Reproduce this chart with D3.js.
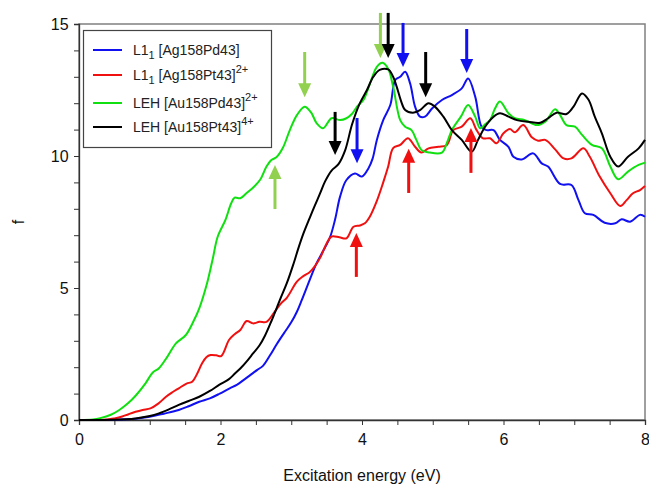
<!DOCTYPE html>
<html><head><meta charset="utf-8">
<script src="https://cdn.jsdelivr.net/npm/d3@7"></script>
<style>body{margin:0;background:#fff}svg{display:block}text{font-family:"Liberation Sans",Arial,sans-serif}</style>
</head><body><svg id="c" width="649" height="486"></svg>
<script>
// ---- data ----
const xTicks = [0, 2, 4, 6, 8];
const yTicks = [0, 5, 10, 15];
const seriesNames = ["L1|1| [Ag158Pd43]", "L1|1| [Ag158Pt43]^2+", "LEH [Au158Pd43]^2+", "LEH [Au158Pt43]^4+"];
const seriesColors = ["#1010f0", "#f01010", "#10e010", "#000000"];

const blueL1Pd = [[0,0],[0.5,0.01],[0.8,0.05],[1.0,0.12],[1.2,0.24],[1.41,0.38],[1.55,0.52],[1.70,0.69],[1.85,0.82],[1.99,1.0],[2.13,1.2],[2.23,1.33],[2.32,1.5],[2.42,1.70],[2.52,1.9],[2.6,2.05],[2.7,2.45],[2.79,2.85],[2.9,3.3],[3.0,3.7],[3.08,4.1],[3.15,4.55],[3.26,5.3],[3.36,5.95],[3.45,6.4],[3.55,6.94],[3.62,7.6],[3.69,8.46],[3.78,9.09],[3.90,9.34],[4.0,9.22],[4.09,9.53],[4.15,9.9],[4.21,10.61],[4.30,11.36],[4.40,11.93],[4.47,12.88],[4.54,13.0],[4.61,13.19],[4.68,12.75],[4.75,11.87],[4.82,11.49],[4.89,11.49],[4.99,11.8],[5.13,12.12],[5.27,12.31],[5.41,12.56],[5.50,12.94],[5.60,12.25],[5.69,11.11],[5.76,10.98],[5.86,10.98],[5.95,10.61],[6.07,10.35],[6.14,9.97],[6.26,9.87],[6.42,10.10],[6.54,9.72],[6.63,9.6],[6.80,8.94],[6.96,8.9],[7.06,8.33],[7.15,7.83],[7.27,7.77],[7.43,7.47],[7.58,7.45],[7.67,7.6],[7.79,7.51],[7.93,7.77],[8.0,7.70]];
const redL1Pt = [[0,0],[0.4,0.02],[0.5,0.06],[0.61,0.13],[0.7,0.22],[0.80,0.31],[0.9,0.38],[1.01,0.44],[1.12,0.62],[1.23,0.88],[1.32,1.05],[1.41,1.20],[1.52,1.38],[1.60,1.45],[1.67,1.75],[1.74,2.15],[1.80,2.38],[1.86,2.46],[1.94,2.45],[2.01,2.42],[2.12,3.03],[2.20,3.25],[2.28,3.41],[2.37,3.75],[2.46,3.66],[2.55,3.72],[2.65,3.72],[2.75,4.04],[2.85,4.4],[2.94,4.64],[3.08,5.24],[3.17,5.45],[3.26,5.6],[3.34,5.85],[3.41,6.15],[3.50,6.69],[3.57,6.95],[3.68,6.92],[3.78,6.88],[3.88,7.32],[3.97,7.37],[4.04,7.45],[4.11,7.70],[4.21,8.3],[4.30,9.0],[4.37,9.6],[4.44,10.3],[4.54,10.42],[4.65,10.67],[4.75,10.35],[4.84,10.13],[4.94,10.29],[5.08,10.35],[5.20,10.42],[5.29,10.98],[5.41,11.11],[5.53,11.43],[5.62,10.98],[5.71,10.67],[5.81,10.67],[5.90,10.48],[6.0,10.86],[6.09,11.02],[6.16,10.9],[6.28,11.17],[6.40,10.71],[6.49,10.58],[6.59,10.61],[6.73,10.25],[6.85,9.91],[6.96,9.91],[7.13,10.29],[7.22,9.97],[7.36,9.22],[7.51,8.59],[7.65,8.11],[7.74,8.33],[7.83,8.59],[7.93,8.71],[8.0,8.86]];
const greenLEHPd = [[0,0],[0.2,0.02],[0.3,0.07],[0.45,0.2],[0.57,0.38],[0.7,0.65],[0.8,0.92],[0.94,1.39],[1.04,1.79],[1.13,1.96],[1.25,2.4],[1.37,2.9],[1.51,3.22],[1.62,3.75],[1.70,4.23],[1.81,5.18],[1.89,6.1],[1.96,6.94],[2.07,7.58],[2.15,8.2],[2.20,8.42],[2.28,8.40],[2.37,8.6],[2.46,8.80],[2.56,9.1],[2.65,9.6],[2.72,9.85],[2.79,9.95],[2.88,10.3],[2.98,10.98],[3.08,11.55],[3.19,11.87],[3.28,11.65],[3.36,11.24],[3.45,11.05],[3.57,11.43],[3.69,11.36],[3.78,11.43],[3.86,11.6],[3.93,11.87],[4.02,12.12],[4.12,12.8],[4.21,13.38],[4.29,13.53],[4.37,13.3],[4.44,12.63],[4.54,11.36],[4.61,11.11],[4.70,10.98],[4.77,10.6],[4.84,10.23],[4.96,10.13],[5.13,10.13],[5.20,10.5],[5.27,10.98],[5.40,11.5],[5.50,11.93],[5.60,11.49],[5.67,11.05],[5.74,11.2],[5.81,11.36],[5.88,11.8],[5.95,12.06],[6.07,11.62],[6.16,11.43],[6.30,11.36],[6.47,11.17],[6.59,11.30],[6.73,11.77],[6.80,11.55],[6.89,11.17],[7.01,11.11],[7.11,10.80],[7.25,10.42],[7.39,10.29],[7.51,9.60],[7.62,9.12],[7.76,9.41],[7.91,9.66],[8.0,9.75]];
const blackLEHPt = [[0,0],[0.5,0.01],[0.8,0.06],[1.0,0.15],[1.13,0.25],[1.27,0.4],[1.41,0.57],[1.55,0.72],[1.70,0.88],[1.85,1.1],[1.98,1.33],[2.12,1.55],[2.20,1.75],[2.28,1.95],[2.38,2.25],[2.46,2.52],[2.55,2.82],[2.63,3.2],[2.72,3.75],[2.84,4.55],[2.94,5.2],[3.03,5.9],[3.10,6.5],[3.17,7.05],[3.26,7.65],[3.33,8.1],[3.41,8.6],[3.48,9.05],[3.57,9.45],[3.67,9.7],[3.76,10.2],[3.86,11.2],[3.97,12.0],[4.07,12.5],[4.16,13.0],[4.25,13.26],[4.37,13.28],[4.44,13.0],[4.49,12.63],[4.55,12.1],[4.61,11.74],[4.72,11.64],[4.82,11.74],[4.94,12.0],[5.03,11.87],[5.15,11.49],[5.27,10.98],[5.41,10.61],[5.55,10.16],[5.64,10.61],[5.74,11.11],[5.86,11.49],[5.95,11.62],[6.07,11.49],[6.19,11.36],[6.35,11.30],[6.52,11.26],[6.63,11.43],[6.75,11.64],[6.89,11.59],[6.99,11.87],[7.11,12.37],[7.20,12.14],[7.29,11.49],[7.39,10.86],[7.51,9.97],[7.62,9.60],[7.76,9.97],[7.91,10.29],[8.0,10.61]];

// arrows: [x, yTail, yTip, colour]
const arrows = [
  [3.19, 13.94, 12.23, "#92d050"],
  [2.77, 7.99, 9.66, "#92d050"],
  [3.62, 11.67, 10.04, "#000000"],
  [3.93, 11.44, 9.73, "#1010f0"],
  [3.92, 5.42, 7.08, "#f01010"],
  [4.26, 15.42, 13.71, "#92d050"],
  [4.37, 15.42, 13.71, "#000000"],
  [4.58, 15.04, 13.37, "#1010f0"],
  [4.90, 13.94, 12.23, "#000000"],
  [4.66, 8.60, 10.27, "#f01010"],
  [5.48, 14.81, 13.14, "#1010f0"],
  [5.54, 9.36, 11.06, "#f01010"]
];

// ---- drawing ----
const svg = d3.select("#c");
const L = 79, R = 645, T = 24, B = 420;
const x = d3.scaleLinear().domain([0, 8]).range([L, R]);
const y = d3.scaleLinear().domain([0, 15]).range([B, T]);

// frame
svg.append("rect").attr("x", L).attr("y", T).attr("width", R - L).attr("height", B - T)
  .attr("fill", "none").attr("stroke", "#808080").attr("stroke-width", 1.5);

// axes
const xAxis = d3.axisBottom(x).tickValues(d3.range(0, 8.01, 0.5)).tickSize(5)
  .tickFormat(d => xTicks.includes(d) ? d : "");
const gx = svg.append("g").attr("transform", `translate(0,${B})`).call(xAxis);
const yAxis = d3.axisLeft(y).tickValues(d3.range(0, 15.01, 1)).tickSize(5)
  .tickFormat(d => yTicks.includes(d) ? d : "");
const gy = svg.append("g").attr("transform", `translate(${L},0)`).call(yAxis);
[gx, gy].forEach(g => {
  g.select(".domain").attr("stroke", "#333").attr("stroke-width", 1.3);
  g.selectAll(".tick line").attr("stroke", "#333");
  g.selectAll("text").attr("font-size", 16).attr("fill", "#111")
    .style("font-family", '"Liberation Sans",Arial,sans-serif');
});
gx.selectAll("text").attr("dy", "1.05em");
gy.selectAll("text").attr("dx", "-0.15em");

svg.append("text").attr("x", (L + R) / 2).attr("y", 481).attr("text-anchor", "middle")
  .attr("font-size", 16).attr("fill", "#111").text("Excitation energy (eV)");
svg.append("text").attr("transform", "translate(24,222) rotate(-90)").attr("text-anchor", "middle")
  .attr("font-size", 16).attr("fill", "#111").text("f");

// curves
const line = d3.line().x(d => x(d[0])).y(d => y(d[1])).curve(d3.curveCatmullRom.alpha(0.5));
const allSeries = [blueL1Pd, redL1Pt, greenLEHPd, blackLEHPt];
allSeries.forEach((s, i) => {
  svg.append("path").attr("d", line(s)).attr("fill", "none")
    .attr("stroke", seriesColors[i]).attr("stroke-width", 2).attr("stroke-linejoin", "round");
});

// arrows
arrows.forEach(([ax, y0, y1, col]) => {
  const px = x(ax), p0 = y(y0), p1 = y(y1);
  const dir = p1 > p0 ? 1 : -1;
  const hl = 14, hw = 6.5;
  svg.append("line").attr("x1", px).attr("x2", px).attr("y1", p0).attr("y2", p1 - dir * hl + dir * 1)
    .attr("stroke", col).attr("stroke-width", 3);
  svg.append("path").attr("d", `M${px - hw},${p1 - dir * hl}L${px + hw},${p1 - dir * hl}L${px},${p1}Z`)
    .attr("fill", col);
});

// legend
const lg = svg.append("g");
lg.append("rect").attr("x", 83.5).attr("y", 30.5).attr("width", 188).attr("height", 117)
  .attr("fill", "#fff").attr("stroke", "#444").attr("stroke-width", 1.2);
const rowsY = [50, 75, 103, 127];
seriesNames.forEach((name, i) => {
  lg.append("line").attr("x1", 93).attr("x2", 122).attr("y1", rowsY[i]).attr("y2", rowsY[i])
    .attr("stroke", seriesColors[i]).attr("stroke-width", 2);
  const t = lg.append("text").attr("x", 133).attr("y", rowsY[i] + 5).attr("font-size", 14).attr("fill", "#222");
  let main = name, sup = null;
  if (main.includes("^")) { [main, sup] = main.split("^"); }
  if (main.includes("|")) {
    const parts = main.split("|");
    t.append("tspan").text(parts[0]);
    t.append("tspan").attr("font-size", 11).attr("dy", 4).text(parts[1]);
    t.append("tspan").attr("dy", -4).text(parts[2]);
  } else {
    t.append("tspan").text(main);
  }
  if (sup) t.append("tspan").attr("font-size", 11).attr("dy", -7).text(sup);
});
</script></body></html>
